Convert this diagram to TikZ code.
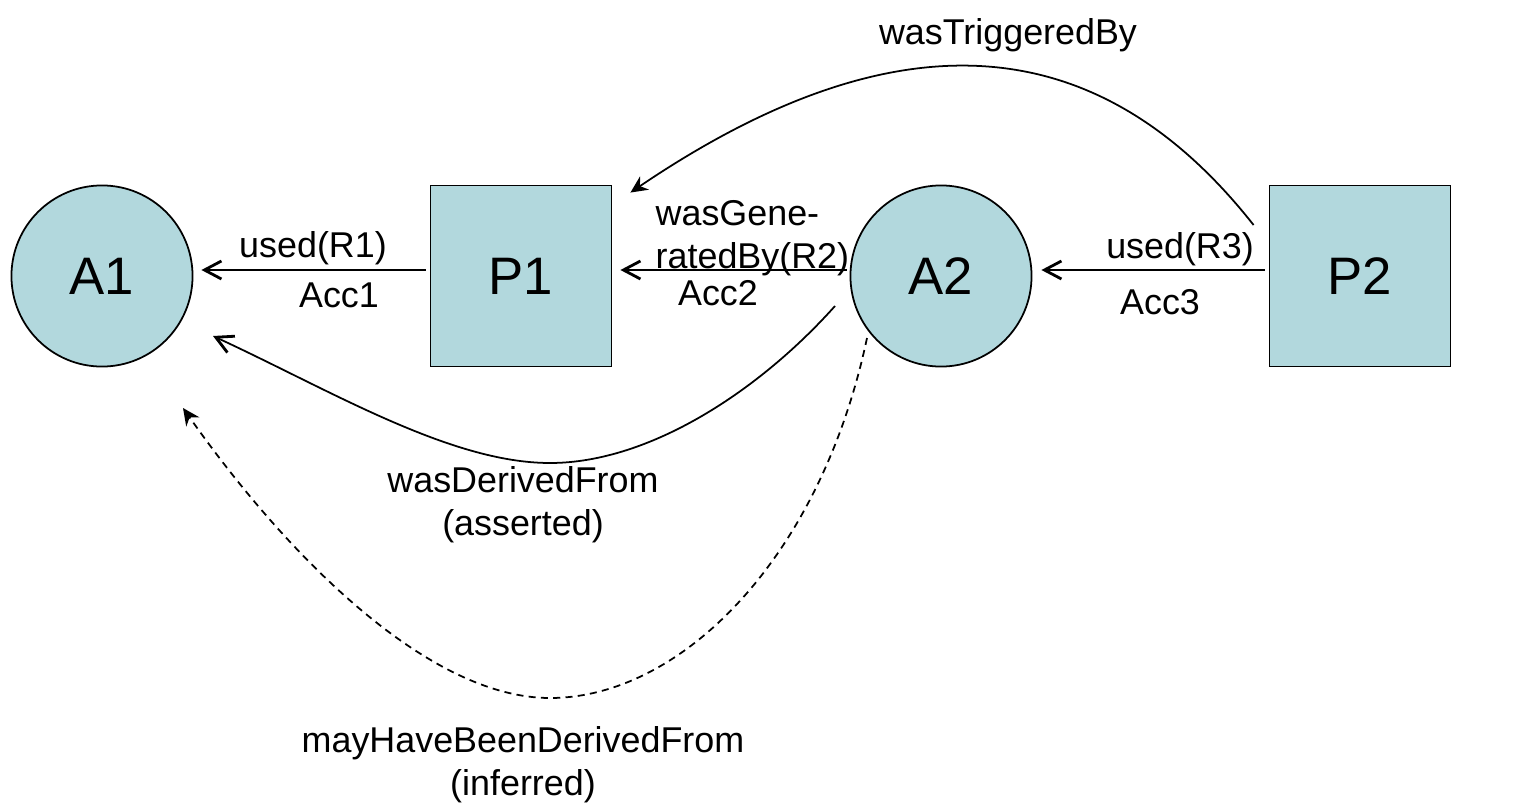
\documentclass[tikz,border=0pt]{standalone}
\usepackage{fontspec}
\setmainfont{Liberation Sans}
\usetikzlibrary{calc,arrows.meta}
\definecolor{opmblue}{RGB}{178,216,221}

\begin{document}
\begin{tikzpicture}[x=0.01cm,y=-0.01cm,
    artifact/.style={circle,draw,fill=opmblue,minimum size=1.81cm,inner sep=0pt,
        line width=0.5pt,font=\fontsize{15}{18}\selectfont},
    process/.style={rectangle,draw,fill=opmblue,minimum size=1.81cm,inner sep=0pt,
        line width=0.5pt,font=\fontsize{15}{18}\selectfont},
    lbl/.style={inner sep=0pt,align=center,font=\fontsize{10.2}{12.2}\selectfont},
    rel/.style={line width=0.5pt,-{Straight Barb[length=1.7mm,width=1.8mm,line width=0.8pt]}},
    relcurve/.style={line width=0.5pt,-{Stealth[length=1.7mm,width=1.6mm]}}]
    \useasboundingbox (0,0) rectangle (1524,812);
    % artifacts and processes
    \node[artifact] (A1) at (102,276) {A1};
    \node[process] (P1) at (521,276) {P1};
    \node[artifact] (A2) at (941,276) {A2};
    \node[process] (P2) at (1360,276) {P2};
    % straight dependencies
    \draw[rel] ($(P1.west)+(-4,-6)$) -- ($(A1.east)+(8,-6)$);
    \draw[rel] ($(A2.west)+(-3,-6)$) -- ($(P1.east)+(8,-6)$);
    \draw[rel] ($(P2.west)+(-4,-6)$) -- ($(A2.east)+(9,-6)$);
    \node[lbl] (usedR1) at (313,248) {used(R1)};
    \node[lbl] (acc1) at (339,295) {Acc1};
    \node[lbl,align=left,anchor=west] (genR2) at (655,238) {wasGene-\\ratedBy(R2)};
    \node[lbl] (acc2) at (718,293) {Acc2};
    \node[lbl] (usedR3) at (1180,249) {used(R3)};
    \node[lbl] (acc3) at (1160,302) {Acc3};
    % curved dependencies
    \draw[relcurve] ($(P2.west)+(-15,-51)$) .. controls (1100,30) and (900,10) .. ($(P1.north east)+(18,8)$);
    \node[lbl] (trig) at (1008,35) {wasTriggeredBy};
    \draw[rel] ($(A2.center)+(-106,30)$) .. controls (760,390) and (650,463) .. (550,463)
        .. controls (450,463) and (330,390) .. ($(A1.center)+(111,60)$);
    \node[lbl] (derived) at (523,505) {wasDerivedFrom\\(asserted)};
    \draw[relcurve,dash pattern=on 2pt off 1.5pt] ($(A2.center)+(-74,62)$) .. controls (820,560) and (680,698) .. (550,698)
        .. controls (430,698) and (290,560) .. ($(A1.center)+(81,132)$);
    \node[lbl] (mayderived) at (523,765) {mayHaveBeenDerivedFrom\\(inferred)};
\end{tikzpicture}
\end{document}
